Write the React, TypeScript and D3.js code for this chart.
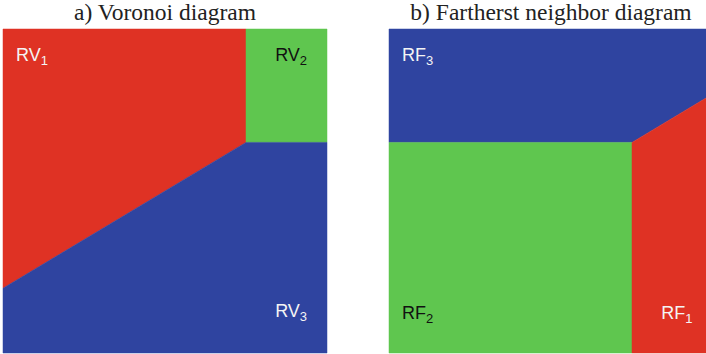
import { useEffect, useRef } from 'react'
import * as d3 from 'd3'

// panel titles
const titles = ['a) Voronoi diagram', 'b) Fartherst neighbor diagram']

// region polygons in unit coordinates (x right, y up)
const voronoiRed = [[0, 1], [0.75, 1], [0.75, 0.65], [0, 0.2]]
const voronoiGreen = [[0.75, 1], [1, 1], [1, 0.65], [0.75, 0.65]]
const voronoiBlue = [[0, 0.2], [0.75, 0.65], [1, 0.65], [1, 0], [0, 0]]

const farthestBlue = [[0, 1], [1, 1], [1, 0.8], [0.75, 0.65], [0, 0.65]]
const farthestGreen = [[0, 0.65], [0.75, 0.65], [0.75, 0], [0, 0]]
const farthestRed = [[0.75, 0], [0.75, 0.65], [1, 0.8], [1, 0]]

// region labels: [main, subscript, anchor x, anchor y, dark text?]
const voronoiLabels = [
  ['RV', '1', 0.04, 0.9, false],
  ['RV', '2', 0.84, 0.9, true],
  ['RV', '3', 0.84, 0.11, false],
]
const farthestLabels = [
  ['RF', '3', 0.04, 0.9, false],
  ['RF', '2', 0.04, 0.105, true],
  ['RF', '1', 0.84, 0.105, false],
]

const RED = '#df3224'
const GREEN = '#5fc64f'
const BLUE = '#2f44a0'

const App = () => {
  const svgRef = useRef()

  useEffect(() => {
    const svg = d3.select(svgRef.current)
    svg.selectAll('*').remove()

    const size = 324
    const top = 29
    const panels = [
      {
        left: 3,
        title: titles[0],
        regions: [[voronoiRed, RED], [voronoiGreen, GREEN], [voronoiBlue, BLUE]],
        labels: voronoiLabels,
      },
      {
        left: 389,
        title: titles[1],
        regions: [[farthestBlue, BLUE], [farthestGreen, GREEN], [farthestRed, RED]],
        labels: farthestLabels,
      },
    ]

    panels.forEach((p) => {
      const x = d3.scaleLinear().domain([0, 1]).range([p.left, p.left + size])
      const y = d3.scaleLinear().domain([0, 1]).range([top + size, top])
      const line = d3
        .line()
        .x((d) => x(d[0]))
        .y((d) => y(d[1]))
        .curve(d3.curveLinearClosed)

      const g = svg.append('g')

      g.selectAll('.region')
        .data(p.regions)
        .enter()
        .append('path')
        .attr('class', 'region')
        .attr('d', (d) => line(d[0]))
        .attr('fill', (d) => d[1])
        .attr('stroke', (d) => d[1])
        .attr('stroke-width', 0.5)

      g.append('text')
        .attr('x', x(0.5))
        .attr('y', 20)
        .attr('text-anchor', 'middle')
        .style('font-family', '"Liberation Serif", "Times New Roman", serif')
        .style('font-size', '23.5px')
        .style('fill', '#222')
        .text(p.title)

      p.labels.forEach((l) => {
        const t = g
          .append('text')
          .attr('x', x(l[2]))
          .attr('y', y(l[3]))
          .style('font-family', '"Liberation Sans", Arial, sans-serif')
          .style('font-size', '18px')
          .style('fill', l[4] ? '#111' : '#f4f4f4')
        t.append('tspan').text(l[0])
        t.append('tspan')
          .attr('dy', 4)
          .style('font-size', '13px')
          .text(l[1])
      })
    })
  }, [])

  return (
    <svg
      ref={svgRef}
      width='706'
      height='354'
      style={{ position: 'absolute', left: 0, top: 0, background: '#fff' }}
    />
  )
}

export default App
